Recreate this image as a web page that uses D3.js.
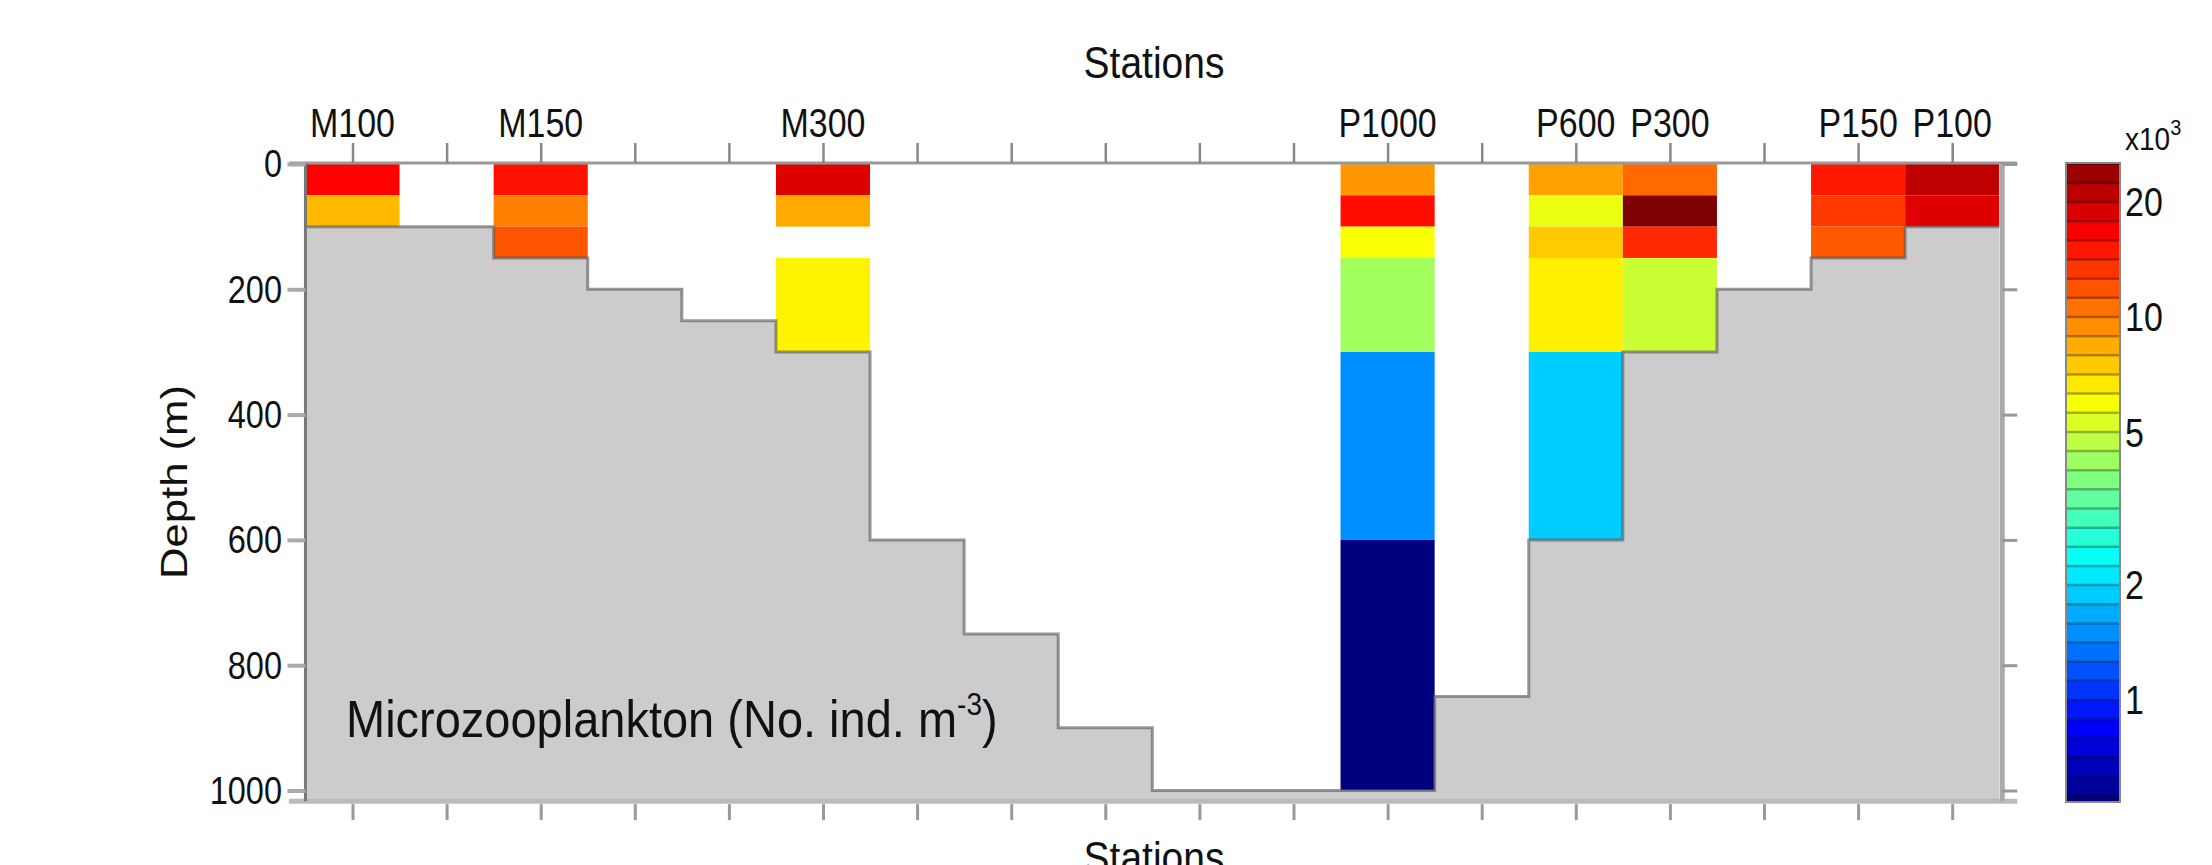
<!DOCTYPE html>
<html>
<head>
<meta charset="utf-8">
<script src="https://cdn.jsdelivr.net/npm/d3@7"></script>
<style>
  body { margin: 0; background: #fff; }
  svg { display: block; }
  text { font-family: "Liberation Sans", Arial, sans-serif; fill: #111; }
</style>
</head>
<body>
<svg id="chart" width="2212" height="865"></svg>
<script>
// stations and their slot along the section
const stations = ["M100", "M150", "M300", "P1000", "P600", "P300", "P150", "P100"];
const stationPos = [0, 2, 5, 11, 13, 14, 16, 17];
// bottom depth (m) for every slot 0..17
const bottomDepth = [100, 100, 150, 200, 250, 300, 600, 750, 900, 1000, 1000, 1000, 850, 600, 300, 200, 150, 100];
// sampled layers (m)
const layerTop = [0, 50, 100, 150, 300, 600];
const layerBottom = [50, 100, 150, 300, 600, 1000];
// microzooplankton, x10^3 ind. m-3, one value per layer (null = no sample)
const m100 = [16.3, 8.0];
const m150 = [15.3, 10.0, 11.8];
const m300 = [18.4, 8.5, null, 6.4];
const p1000 = [9.1, 15.5, 6.0, 4.3, 1.5, 0.53];
const p600 = [8.8, 5.7, 7.5, 6.5, 1.9];
const p300 = [10.9, 27, 13.9, 5.0];
const p150 = [14.9, 13.1, 11.6];
const p100 = [20.8, 18.4];
// tick labels
const depthTicks = [0, 200, 400, 600, 800, 1000];
const colorTicks = [1, 2, 5, 10, 20];

const stationValues = [m100, m150, m300, p1000, p600, p300, p150, p100];
const SY = 1.18; // the source picture is stretched vertically

const svg = d3.select("#chart");

var x = d3.scaleLinear().domain([0, 17]).range([352.5, 1952.2]);
var y = d3.scaleLinear().domain([0, 1000]).range([164, 790.5]);
var plotL = x(-0.5), plotR = x(17.5), plotT = y(0), plotB = y(1017);

// jet colour map on log10 of abundance
const jet = d3.scaleLinear()
  .domain([0, 0.125, 0.375, 0.625, 0.875, 1])
  .range(["#00007f", "#0000ff", "#00ffff", "#ffff00", "#ff0000", "#7f0000"])
  .clamp(true);
const logLo = -0.275, logHi = 1.425;
function cellColor(v) { return jet((Math.log10(v) - logLo) / (logHi - logLo)); }

function label(parent, px, py, str, size, anchor, sy) {
  return parent.append("text")
    .attr("transform", "translate(" + px + "," + py + ") scale(1," + sy + ")")
    .attr("font-size", size)
    .attr("text-anchor", anchor)
    .text(str);
}

// cells
var cells = [];
stationValues.forEach(function(vals, i) {
  vals.forEach(function(v, j) {
    if (v == null) return;
    cells.push({pos: stationPos[i], top: layerTop[j], bot: layerBottom[j], val: v});
  });
});

svg.append("g").selectAll("rect")
  .data(cells)
  .enter().append("rect")
  .attr("x", d => x(d.pos - 0.5))
  .attr("width", d => x(d.pos + 0.5) - x(d.pos - 0.5))
  .attr("y", d => y(d.top))
  .attr("height", d => y(d.bot) - y(d.top))
  .attr("fill", d => cellColor(d.val));

// bathymetry
var steps = [];
bottomDepth.forEach(function(d, i) {
  steps.push([x(i - 0.5), y(d)]);
  steps.push([x(i + 0.5), y(d)]);
});
var area = [[plotL, plotB]].concat(steps, [[plotR, plotB]]);
svg.append("path")
  .attr("d", d3.line()(area) + "Z")
  .attr("fill", "#cccccc");
svg.append("path")
  .attr("d", d3.line()(steps))
  .attr("fill", "none")
  .attr("stroke", "#555")
  .attr("stroke-opacity", 0.6)
  .attr("stroke-width", 3);

// frame
svg.append("line").attr("x1", 289).attr("x2", plotR + 18).attr("y1", plotT - 1).attr("y2", plotT - 1)
  .attr("stroke", "#999").attr("stroke-width", 3);
svg.append("line").attr("x1", 289).attr("x2", plotR + 18).attr("y1", plotB).attr("y2", plotB)
  .attr("stroke", "#bbb").attr("stroke-width", 5);
svg.append("line").attr("x1", plotL).attr("x2", plotL).attr("y1", plotT).attr("y2", plotB)
  .attr("stroke", "#777").attr("stroke-width", 3);
svg.append("line").attr("x1", plotR + 3).attr("x2", plotR + 3).attr("y1", plotT).attr("y2", plotB)
  .attr("stroke", "#aaa").attr("stroke-width", 5);

// ticks
var slots = d3.range(18);
var topAxis = svg.append("g").attr("transform", "translate(0," + (plotT - 1) + ")")
  .call(d3.axisTop(x).tickValues(slots).tickSize(20).tickFormat(""));
var botAxis = svg.append("g").attr("transform", "translate(0," + (plotB + 3) + ")")
  .call(d3.axisBottom(x).tickValues(slots).tickSize(16).tickFormat(""));
var leftAxis = svg.append("g").attr("transform", "translate(" + plotL + ",0)")
  .call(d3.axisLeft(y).tickValues(depthTicks).tickSize(18).tickFormat(""));
var rightAxis = svg.append("g").attr("transform", "translate(" + (plotR + 3) + ",0)")
  .call(d3.axisRight(y).tickValues(depthTicks).tickSize(15).tickFormat(""));
[topAxis, botAxis, leftAxis, rightAxis].forEach(function(a) { a.select(".domain").remove(); });
topAxis.selectAll(".tick line").attr("stroke", "#888").attr("stroke-width", 2.5);
botAxis.selectAll(".tick line").attr("stroke", "#999").attr("stroke-width", 3);
leftAxis.selectAll(".tick line").attr("stroke", "#aaa").attr("stroke-width", 4);
rightAxis.selectAll(".tick line").attr("stroke", "#999").attr("stroke-width", 3);

// labels
stations.forEach(function(s, i) {
  label(svg, x(stationPos[i]), 137, s, 34, "middle", SY);
});
depthTicks.forEach(function(d) {
  label(svg, 282, y(d) + 34 * 0.716 * SY / 2 - 1, d, 32.5, "end", SY);
});
label(svg, 1154, 78, "Stations", 39, "middle", 1.12);
label(svg, 1154, 873, "Stations", 39, "middle", 1.12);

svg.append("text")
  .attr("transform", "translate(187,482) rotate(-90) scale(" + SY + ",1)")
  .attr("font-size", 37)
  .attr("text-anchor", "middle")
  .text("Depth (m)");

var title = label(svg, 346, 737, "", 47, "start", 1.1);
title.append("tspan").text("Microzooplankton (No. ind. m");
title.append("tspan").attr("font-size", 28).attr("dy", -20).text("-3");
title.append("tspan").attr("dy", 20).text(")");

// colour bar
var cb = d3.scaleLog().domain([0.5417, 25.24]).range([802, 163]);
var cbX = 2066, cbW = 54;
var bounds = d3.range(-0.30, 1.46, 0.05).map(b => Math.pow(10, b));
var bands = [];
for (var k = 0; k < bounds.length - 1; k++) {
  var lo = Math.max(bounds[k], cb.domain()[0]);
  var hi = Math.min(bounds[k + 1], cb.domain()[1]);
  if (hi > lo) bands.push({lo: lo, hi: hi, mid: Math.sqrt(bounds[k] * bounds[k + 1])});
}
svg.append("g").selectAll("rect")
  .data(bands)
  .enter().append("rect")
  .attr("x", cbX).attr("width", cbW)
  .attr("y", d => cb(d.hi))
  .attr("height", d => cb(d.lo) - cb(d.hi) + 0.5)
  .attr("fill", d => cellColor(d.mid));
svg.append("g").selectAll("line")
  .data(bands.slice(0, -1))
  .enter().append("line")
  .attr("x1", cbX).attr("x2", cbX + cbW)
  .attr("y1", d => cb(d.hi)).attr("y2", d => cb(d.hi))
  .attr("stroke", "#000").attr("stroke-opacity", 0.3).attr("stroke-width", 2.5);
svg.append("rect")
  .attr("x", cbX).attr("y", cb.range()[1]).attr("width", cbW)
  .attr("height", cb.range()[0] - cb.range()[1])
  .attr("fill", "none").attr("stroke", "#888").attr("stroke-width", 2);

colorTicks.forEach(function(v) {
  label(svg, cbX + cbW + 5, cb(v) + 34 * 0.716 * SY / 2, v, 34, "start", SY);
});
var unit = label(svg, 2125, 150, "", 28, "start", 1.1);
unit.append("tspan").text("x10");
unit.append("tspan").attr("font-size", 20).attr("dy", -14).text("3");
</script>
</body>
</html>
